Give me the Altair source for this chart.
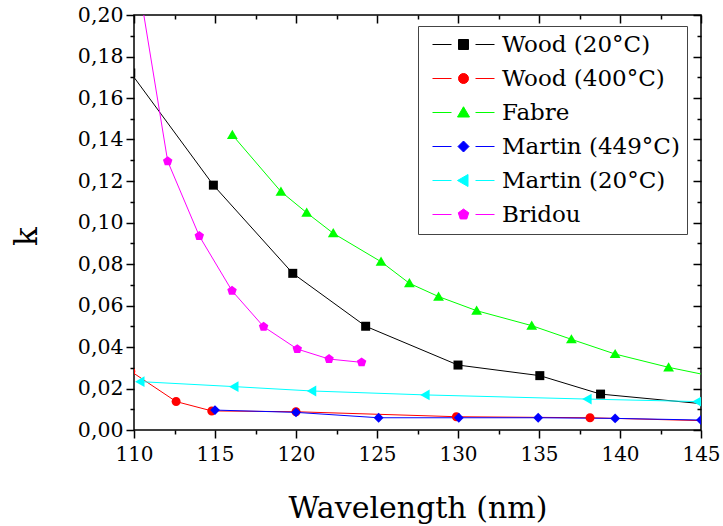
import altair as alt
import pandas as pd

# ---------------- data ----------------
series_names = ["Wood (20°C)", "Wood (400°C)", "Fabre", "Martin (449°C)", "Martin (20°C)", "Bridou"]
series_colors = ["#000000", "#ff0000", "#00ff00", "#0000ff", "#00ffff", "#ff00ff"]

wood20_wl = [109.8, 114.9, 119.8, 124.3, 130.0, 135.05, 138.8, 146.5]
wood20_k = [0.1721, 0.118, 0.0755, 0.050, 0.0313, 0.0262, 0.0173, 0.0116]

wood400_wl = [109.8, 112.6, 114.8, 120.0, 129.9, 138.15, 150.0]
wood400_k = [0.0283, 0.0137, 0.0092, 0.0088, 0.0064, 0.0059, 0.0035]

fabre_wl = [116.07, 119.07, 120.66, 122.3, 125.25, 127.0, 128.8, 131.15, 134.55, 137.0, 139.7, 143.0, 146.5]
fabre_k = [0.1422, 0.1149, 0.1047, 0.0948, 0.0811, 0.0707, 0.0643, 0.0575, 0.0503, 0.0437, 0.0366, 0.0302, 0.0246]

martin449_wl = [115.0, 120.0, 125.1, 130.05, 134.95, 139.7, 145.0]
martin449_k = [0.0096, 0.0085, 0.0059, 0.0059, 0.0059, 0.0056, 0.0048]

martin20_wl = [110.4, 116.2, 121.0, 128.0, 138.0, 144.8]
martin20_k = [0.0233, 0.0209, 0.0188, 0.0169, 0.0149, 0.0137]

bridou_wl = [110.0, 112.08, 114.03, 116.05, 118.0, 120.08, 122.04, 124.05]
bridou_k = [0.229, 0.1295, 0.0935, 0.0671, 0.0498, 0.039, 0.0342, 0.0326]

x_major = [110, 115, 120, 125, 130, 135, 140, 145]
x_minor = [112.5, 117.5, 122.5, 127.5, 132.5, 137.5, 142.5]
y_major = [round(i * 0.02, 2) for i in range(11)]
y_minor = [round(0.01 + i * 0.02, 2) for i in range(10)]

all_series = [
    (series_names[0], wood20_wl, wood20_k),
    (series_names[1], wood400_wl, wood400_k),
    (series_names[2], fabre_wl, fabre_k),
    (series_names[3], martin449_wl, martin449_k),
    (series_names[4], martin20_wl, martin20_k),
    (series_names[5], bridou_wl, bridou_k),
]
rows = []
for name, xs, ks in all_series:
    for i, (xv, kv) in enumerate(zip(xs, ks)):
        rows.append({"series": name, "wl": xv, "k": kv, "order": i})
df = pd.DataFrame(rows)

# ---------------- marker shapes ----------------
square = "M-1,-1H1V1H-1Z"
circle = "M1,0A1,1,0,1,1,-1,0A1,1,0,1,1,1,0Z"
tri_up = "M0,-1.15L1.2,0.9L-1.2,0.9Z"
diamond = "M0,-1.1L1.1,0L0,1.1L-1.1,0Z"
tri_left = "M-1.2,0L0.9,-1.2L0.9,1.2Z"
pentagon = "M0,-1.1L1.05,-0.34L0.65,0.89L-0.65,0.89L-1.05,-0.34Z"
marker_paths = [square, circle, tri_up, diamond, tri_left, pentagon]
legend_line = "M-6.2,0H-2.4M2.4,0H6.2"
legend_paths = [p + legend_line for p in marker_paths]

FONT = "DejaVu Serif"

xscale = alt.Scale(domain=[110, 145], nice=False, zero=False)
yscale = alt.Scale(domain=[0, 0.2], nice=False, zero=False)

common_tick = dict(tickColor="black", tickWidth=1.5, domain=False, grid=False)

x_bottom_major = alt.Axis(
    orient="bottom", values=x_major, tickSize=8, labels=True, format="d",
    labelFont=FONT, labelFontSize=20, labelColor="black", labelPadding=6,
    labelFlush=False, labelOverlap=False, labelFontWeight="normal",
    title="Wavelength (nm)", titleFont=FONT, titleFontSize=30,
    titleFontWeight="normal", titleColor="black", titleY=87,
    titleBaseline="alphabetic", **common_tick)
y_left_major = alt.Axis(
    orient="left", values=y_major, tickSize=8, labels=True,
    labelExpr="replace(format(datum.value, '.2f'), '.', ',')",
    labelFont=FONT, labelFontSize=20.5, labelColor="black", labelPadding=3,
    labelFlush=False, labelOverlap=False, labelFontWeight="normal",
    title="k", titleFont=FONT, titleFontSize=31, titleFontWeight="normal",
    titleColor="black", titleAngle=270, titleX=-98, titleY=221,
    titleBaseline="alphabetic", titleAlign="center", **common_tick)
x_bottom_minor = alt.Axis(orient="bottom", values=x_minor, tickSize=4, labels=False, title=None, **common_tick)
y_left_minor = alt.Axis(orient="left", values=y_minor, tickSize=4, labels=False, title=None, **common_tick)
x_top_major = alt.Axis(orient="top", values=x_major, tickSize=8, offset=-8, labels=False, title=None, **common_tick)
y_right_major = alt.Axis(orient="right", values=y_major, tickSize=8, offset=-8, labels=False, title=None, **common_tick)
x_top_minor = alt.Axis(orient="top", values=x_minor, tickSize=4, offset=-4, labels=False, title=None, **common_tick)
y_right_minor = alt.Axis(orient="right", values=y_minor, tickSize=4, offset=-4, labels=False, title=None, **common_tick)

color_scale = alt.Scale(domain=series_names, range=series_colors)

base = alt.Chart(df)

lines = base.mark_line(strokeWidth=1, clip=True).encode(
    x=alt.X("wl:Q", scale=xscale, axis=x_bottom_major),
    y=alt.Y("k:Q", scale=yscale, axis=y_left_major),
    color=alt.Color("series:N", scale=color_scale, legend=None),
    order=alt.Order("order:Q"),
)

points = base.mark_point(filled=True, size=81, opacity=1, clip=True).encode(
    x=alt.X("wl:Q", scale=xscale, axis=x_bottom_minor),
    y=alt.Y("k:Q", scale=yscale, axis=y_left_minor),
    color=alt.Color("series:N", scale=color_scale, legend=None),
    shape=alt.Shape("series:N", scale=alt.Scale(domain=series_names, range=marker_paths), legend=None),
)

leg = alt.Legend(
    orient="none", legendX=284, legendY=11, title=None,
    labelFont=FONT, labelFontSize=23, labelColor="black", labelLimit=400,
    labelFontWeight="normal",
    symbolSize=100, symbolStrokeWidth=1, symbolOffset=27, labelOffset=27,
    padding=7, rowPadding=10, strokeColor="#444444", fillColor="white",
    cornerRadius=0,
)

legend_layer = base.transform_filter("false").mark_point(filled=True, size=100, strokeWidth=1, opacity=1).encode(
    x=alt.X("wl:Q", scale=xscale, axis=x_top_major),
    y=alt.Y("k:Q", scale=yscale, axis=y_right_major),
    fill=alt.Fill("series:N", scale=alt.Scale(domain=series_names, range=series_colors), legend=leg),
    stroke=alt.Stroke("series:N", scale=alt.Scale(domain=series_names, range=series_colors), legend=leg),
    shape=alt.Shape("series:N", scale=alt.Scale(domain=series_names, range=legend_paths), legend=leg),
)

minor_layer = base.transform_filter("false").mark_point().encode(
    x=alt.X("wl:Q", scale=xscale, axis=x_top_minor),
    y=alt.Y("k:Q", scale=yscale, axis=y_right_minor),
)

chart = alt.layer(lines, points, legend_layer, minor_layer).resolve_scale(
    shape="independent", fill="independent", stroke="independent"
).resolve_axis(
    x="independent", y="independent"
).properties(
    width=567, height=415,
    padding={"left": 134, "top": 15, "right": 22, "bottom": 96},
    autosize="none",
    background="white",
).configure(
    font=FONT
).configure_view(
    stroke="black", strokeWidth=1.5
)

chart.save("out.html", embed_options={"renderer": "svg", "actions": False})
